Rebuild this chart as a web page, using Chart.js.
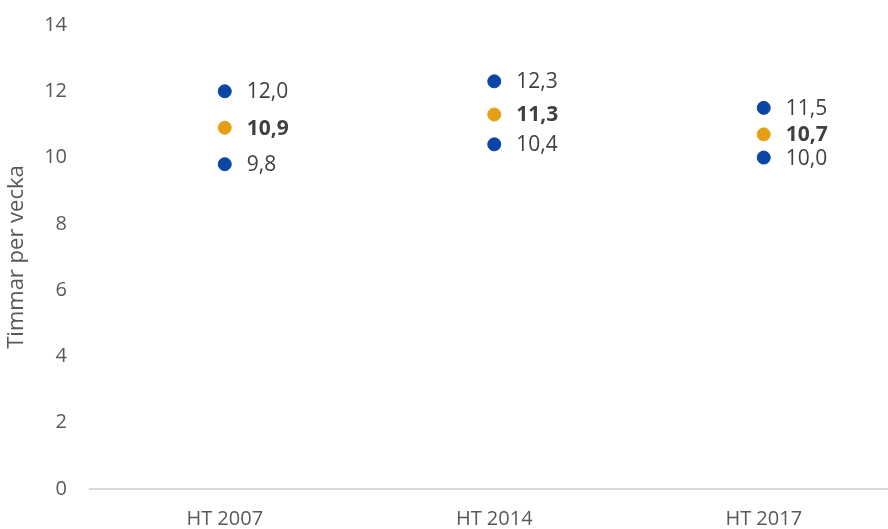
<!DOCTYPE html>
<html>
<head>
<meta charset="utf-8">
<script src="https://cdn.jsdelivr.net/npm/chart.js@4"></script>
<style>
  html, body { margin: 0; padding: 0; background: #fff; overflow: hidden; }
  #wrap { width: 906px; height: 529px; }
</style>
</head>
<body>
<div id="wrap"><canvas id="chart"></canvas></div>
<script>
const terms = ["HT 2007", "HT 2014", "HT 2017"];
const upper = [12.0, 12.3, 11.5];
const mean = [10.9, 11.3, 10.7];
const lower = [9.8, 10.4, 10.0];
const yTicks = [0, 2, 4, 6, 8, 10, 12, 14];

const blue = "#0B46A6";
const orange = "#E69E16";

// draws the value next to each point, comma decimal
const pointLabels = {
  id: "pointLabels",
  afterDatasetsDraw(chart) {
    const ctx = chart.ctx;
    chart.data.datasets.forEach((ds, i) => {
      const meta = chart.getDatasetMeta(i);
      meta.data.forEach((pt, j) => {
        ctx.save();
        ctx.font = (ds.boldLabel ? "bold " : "") + "21px 'Open Sans'";
        ctx.fillStyle = "#404040";
        ctx.textAlign = "left";
        ctx.textBaseline = "middle";
        ctx.fillText(ds.data[j].toFixed(1).replace(".", ","), pt.x + 22, pt.y + 1);
        ctx.restore();
      });
    });
  }
};

const mk = (label, data, color, bold) => ({
  label, data, boldLabel: bold,
  showLine: false,
  pointRadius: 6.5,
  pointHoverRadius: 6.5,
  pointBackgroundColor: color,
  pointBorderColor: color,
  borderColor: color,
  backgroundColor: color
});

new Chart(document.getElementById("chart"), {
  type: "line",
  data: {
    labels: terms,
    datasets: [
      mk("Övre", upper, blue, false),
      mk("Medel", mean, orange, true),
      mk("Nedre", lower, blue, false)
    ]
  },
  options: {
    responsive: true,
    maintainAspectRatio: false,
    animation: false,
    layout: { padding: 0 },
    plugins: { legend: { display: false }, tooltip: { enabled: false } },
    scales: {
      x: {
        offset: true,
        afterFit(axis) { axis.height = 40; },
        grid: { display: false, drawTicks: false },
        border: { display: true, color: "#D9D9D9", width: 2 },
        ticks: { color: "#595959", font: { family: "'Open Sans'", size: 20 }, padding: 18 }
      },
      y: {
        min: 0, max: 14,
        afterBuildTicks(axis) { axis.ticks = yTicks.map(v => ({ value: v })); },
        afterFit(axis) { axis.width = 90; axis.paddingTop = 25; axis.paddingBottom = 12; },
        grid: { display: false, drawTicks: false },
        border: { display: false },
        ticks: { color: "#595959", font: { family: "'Open Sans'", size: 20 }, padding: 23 },
        title: { display: true, text: "Timmar per vecka", color: "#595959", font: { family: "'Open Sans'", size: 22 }, padding: { top: 4, bottom: 2 } }
      }
    }
  },
  plugins: [pointLabels]
});
</script>
</body>
</html>
